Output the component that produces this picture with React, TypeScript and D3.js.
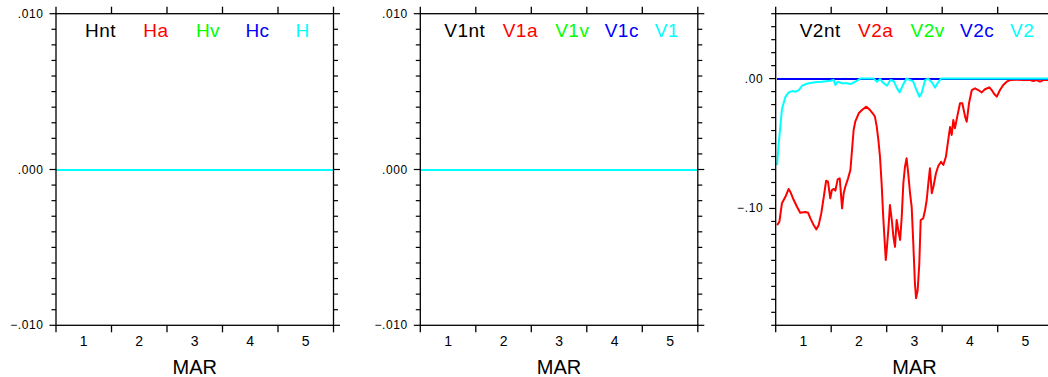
import React from "react";
import * as d3 from "d3";

// ---- data ----
const dayLabels = ["1", "2", "3", "4", "5"];
const axisTitle = "MAR";
const hLegend = ["Hnt", "Ha", "Hv", "Hc", "H"];
const v1Legend = ["V1nt", "V1a", "V1v", "V1c", "V1"];
const v2Legend = ["V2nt", "V2a", "V2v", "V2c", "V2"];

// flat (all-zero) series, hours since MAR 1 00:00
const flatHours = [0, 120];
const flatValues = [0, 0];
const v2ZeroHours = [0.6, 120];
const v2ZeroValues = [0, 0];

// V2a (red)
const v2aHours = [0.6, 1.6, 2.7, 4.2, 5.6, 6.3, 7.8, 9.2, 10.6, 12.8, 14.0, 15.0, 16.4, 17.6, 18.6, 19.7, 20.8, 21.8, 22.6, 23.6, 24.3, 25.1, 25.8, 26.8, 27.7, 28.7, 29.4, 30.1, 31.3, 32.3, 33.0, 33.7, 34.4, 35.9, 37.3, 39.2, 40.8, 42.2, 42.9, 43.7, 44.4, 45.1, 45.8, 46.5, 47.0, 47.6, 48.0, 48.7, 49.4, 50.2, 50.9, 51.6, 52.3, 53.0, 53.8, 54.5, 55.2, 55.9, 56.6, 57.3, 58.1, 58.8, 59.5, 60.2, 60.7, 61.4, 62.1, 62.7, 63.8, 64.6, 65.3, 66.0, 66.7, 67.5, 68.2, 69.3, 70.3, 71.5, 72.5, 73.6, 74.6, 75.4, 76.1, 76.8, 77.5, 78.5, 79.7, 80.7, 81.9, 82.6, 83.6, 84.8, 86.2, 87.6, 89.1, 90.5, 92.4, 93.4, 94.5, 95.6, 97.0, 98.4, 99.9, 101.3, 104.2, 107.1, 110.0, 111.4, 112.9, 114.3, 115.7, 117.2, 119.5];
const v2aValues = [-0.1128, -0.1102, -0.0960, -0.0910, -0.0850, -0.0871, -0.0935, -0.0987, -0.1033, -0.1027, -0.1033, -0.1076, -0.1128, -0.1161, -0.1128, -0.1038, -0.0910, -0.0786, -0.0794, -0.0922, -0.0858, -0.0850, -0.0863, -0.0776, -0.0768, -0.0999, -0.0883, -0.0833, -0.0768, -0.0704, -0.0550, -0.0396, -0.0332, -0.0267, -0.0242, -0.0216, -0.0242, -0.0273, -0.0293, -0.0370, -0.0473, -0.0602, -0.0806, -0.1064, -0.1218, -0.1397, -0.1320, -0.1166, -0.0974, -0.1089, -0.1218, -0.1295, -0.1089, -0.1166, -0.1243, -0.1064, -0.0806, -0.0679, -0.0614, -0.0729, -0.0883, -0.0987, -0.1269, -0.1577, -0.1692, -0.1628, -0.1423, -0.1089, -0.1076, -0.1012, -0.0935, -0.0806, -0.0691, -0.0883, -0.0833, -0.0729, -0.0673, -0.0640, -0.0665, -0.0602, -0.0473, -0.0373, -0.0434, -0.0319, -0.0383, -0.0293, -0.0190, -0.0190, -0.0293, -0.0332, -0.0190, -0.0088, -0.0075, -0.0088, -0.0106, -0.0082, -0.0067, -0.0088, -0.0119, -0.0139, -0.0088, -0.0049, -0.0024, -0.0011, -0.0008, -0.0011, -0.0011, -0.0018, -0.0011, -0.0024, -0.0011, -0.0011, -0.0011];

// V2 (cyan)
const v2Hours = [0.6, 1.3, 2.0, 2.7, 4.2, 5.6, 7.1, 8.5, 10.0, 11.4, 12.8, 14.3, 17.1, 20.0, 23.6, 25.1, 25.8, 26.8, 28.7, 30.8, 32.3, 34.4, 36.6, 42.4, 43.8, 45.2, 46.7, 48.1, 49.6, 51.0, 52.5, 53.6, 55.4, 56.6, 59.4, 60.7, 62.1, 63.1, 64.6, 65.9, 67.6, 68.9, 70.2, 71.5, 119.5];
const v2Values = [-0.0666, -0.050, -0.037, -0.0235, -0.014, -0.0106, -0.0096, -0.0101, -0.0088, -0.0055, -0.0044, -0.0036, -0.0028, -0.0024, -0.0016, -0.0011, -0.0049, -0.0024, -0.0036, -0.0036, -0.0042, -0.0024, 0, 0, -0.0024, -0.0003, -0.0036, -0.0055, -0.0011, -0.0018, -0.0075, -0.0106, -0.0036, 0, -0.002, -0.008, -0.0139, -0.0113, -0.0011, 0, -0.003, -0.0069, -0.003, 0, 0];

// ---- styles ----
const seriesColors = ["#000000", "#ff0000", "#00ff00", "#0000ff", "#00ffff"];
const W = 1048;
const H = 377;
const TOP = 13.7;
const BOTTOM = 325.3;
const PW = 277.5;
const FONT = "'Liberation Sans', Arial, sans-serif";
const legendOffsets = [44.5, 100, 152, 201.5, 246.5];

type Series = { hours: number[]; values: number[] };

function zip(s: Series): [number, number][] {
  return s.hours.map((h, i) => [h, s.values[i]] as [number, number]);
}

function Panel(props: {
  id: string;
  x0: number;
  yDomain: [number, number];
  majors: number[];
  minorStep: number;
  decimals: number;
  legend: string[];
  series: Series[];
}) {
  const { id, x0, yDomain, majors, minorStep, decimals, legend, series } = props;
  const x = d3.scaleLinear().domain([0, 120]).range([x0, x0 + PW]);
  const y = d3.scaleLinear().domain(yDomain).range([BOTTOM, TOP]);
  const line = d3
    .line<[number, number]>()
    .x((d) => x(d[0]))
    .y((d) => y(d[1]));
  const dayTicks = d3.range(0, 121, 24);
  const lo = Math.ceil(yDomain[0] / minorStep - 1e-6);
  const hi = Math.floor(yDomain[1] / minorStep + 1e-6);
  const minors = d3.range(lo, hi + 1).map((i) => i * minorStep);
  const fmt = (v: number) => {
    let s = d3.format(`.${decimals}f`)(Math.abs(v) < 1e-12 ? 0 : v);
    s = s.replace("0.", ".");
    return s;
  };
  const isMajor = (v: number) => majors.some((m) => Math.abs(m - v) < minorStep / 10);
  const xr = x0 + PW;
  return (
    <g>
      <defs>
        <clipPath id={id}>
          <rect x={x0} y={TOP} width={PW} height={BOTTOM - TOP} />
        </clipPath>
      </defs>
      {/* data */}
      <g clipPath={`url(#${id})`}>
        {series.map((s, i) => {
          const flat = s.values.every((v) => v === s.values[0]);
          return (
            <path
              key={i}
              d={line(zip(s)) || ""}
              fill="none"
              stroke={seriesColors[i]}
              strokeWidth={2}
              strokeLinejoin="round"
              shapeRendering={flat ? "crispEdges" : "auto"}
            />
          );
        })}
      </g>
      {/* frame */}
      <rect x={x0} y={TOP} width={PW} height={BOTTOM - TOP} fill="none" stroke="#000" strokeWidth={1.3} />
      {/* day ticks */}
      {dayTicks.map((t) => (
        <g key={`d${t}`}>
          <line x1={x(t)} x2={x(t)} y1={TOP} y2={TOP - 7} stroke="#000" strokeWidth={1.3} />
          <line x1={x(t)} x2={x(t)} y1={BOTTOM} y2={BOTTOM + 7} stroke="#000" strokeWidth={1.3} />
        </g>
      ))}
      {/* day labels */}
      {dayLabels.map((lab, i) => (
        <text
          key={`l${i}`}
          x={x(i * 24 + 12)}
          y={346}
          textAnchor="middle"
          fontFamily={FONT}
          fontSize={14}
          fill="#000"
        >
          {lab}
        </text>
      ))}
      <text x={x(60)} y={374} textAnchor="middle" fontFamily={FONT} fontSize={20} fill="#000">
        {axisTitle}
      </text>
      {/* y ticks */}
      {minors.map((v) => {
        const len = isMajor(v) ? 6.5 : 4.5;
        return (
          <g key={`y${v}`}>
            <line x1={x0} x2={x0 - len} y1={y(v)} y2={y(v)} stroke="#000" strokeWidth={1.2} />
            <line x1={xr} x2={xr + len} y1={y(v)} y2={y(v)} stroke="#000" strokeWidth={1.2} />
          </g>
        );
      })}
      {majors.map((v) => (
        <text
          key={`m${v}`}
          x={x0 - 12.5}
          y={y(v) + 4}
          textAnchor="end"
          fontFamily={FONT}
          fontSize={12}
          letterSpacing={0.6}
          fill="#000"
        >
          {fmt(v)}
        </text>
      ))}
      {/* legend */}
      {legend.map((name, i) => (
        <text
          key={`g${i}`}
          x={x0 + legendOffsets[i]}
          y={37}
          textAnchor="middle"
          fontFamily={FONT}
          fontSize={19}
          letterSpacing={0.5}
          fill={seriesColors[i]}
        >
          {name}
        </text>
      ))}
    </g>
  );
}

export default function App() {
  const flat: Series = { hours: flatHours, values: flatValues };
  const z2: Series = { hours: v2ZeroHours, values: v2ZeroValues };
  return (
    <svg
      width={W}
      height={H}
      style={{ position: "absolute", left: 0, top: 0, background: "#fff" }}
    >
      <rect x={0} y={0} width={W} height={H} fill="#fff" />
      <Panel
        id="c1"
        x0={56}
        yDomain={[-0.01, 0.01]}
        majors={[-0.01, 0, 0.01]}
        minorStep={0.001}
        decimals={3}
        legend={hLegend}
        series={[flat, flat, flat, flat, flat]}
      />
      <Panel
        id="c2"
        x0={420.3}
        yDomain={[-0.01, 0.01]}
        majors={[-0.01, 0, 0.01]}
        minorStep={0.001}
        decimals={3}
        legend={v1Legend}
        series={[flat, flat, flat, flat, flat]}
      />
      <Panel
        id="c3"
        x0={775.7}
        yDomain={[-0.19, 0.05]}
        majors={[-0.1, 0]}
        minorStep={0.01}
        decimals={2}
        legend={v2Legend}
        series={[
          z2,
          { hours: v2aHours, values: v2aValues },
          z2,
          z2,
          { hours: v2Hours, values: v2Values },
        ]}
      />
    </svg>
  );
}
